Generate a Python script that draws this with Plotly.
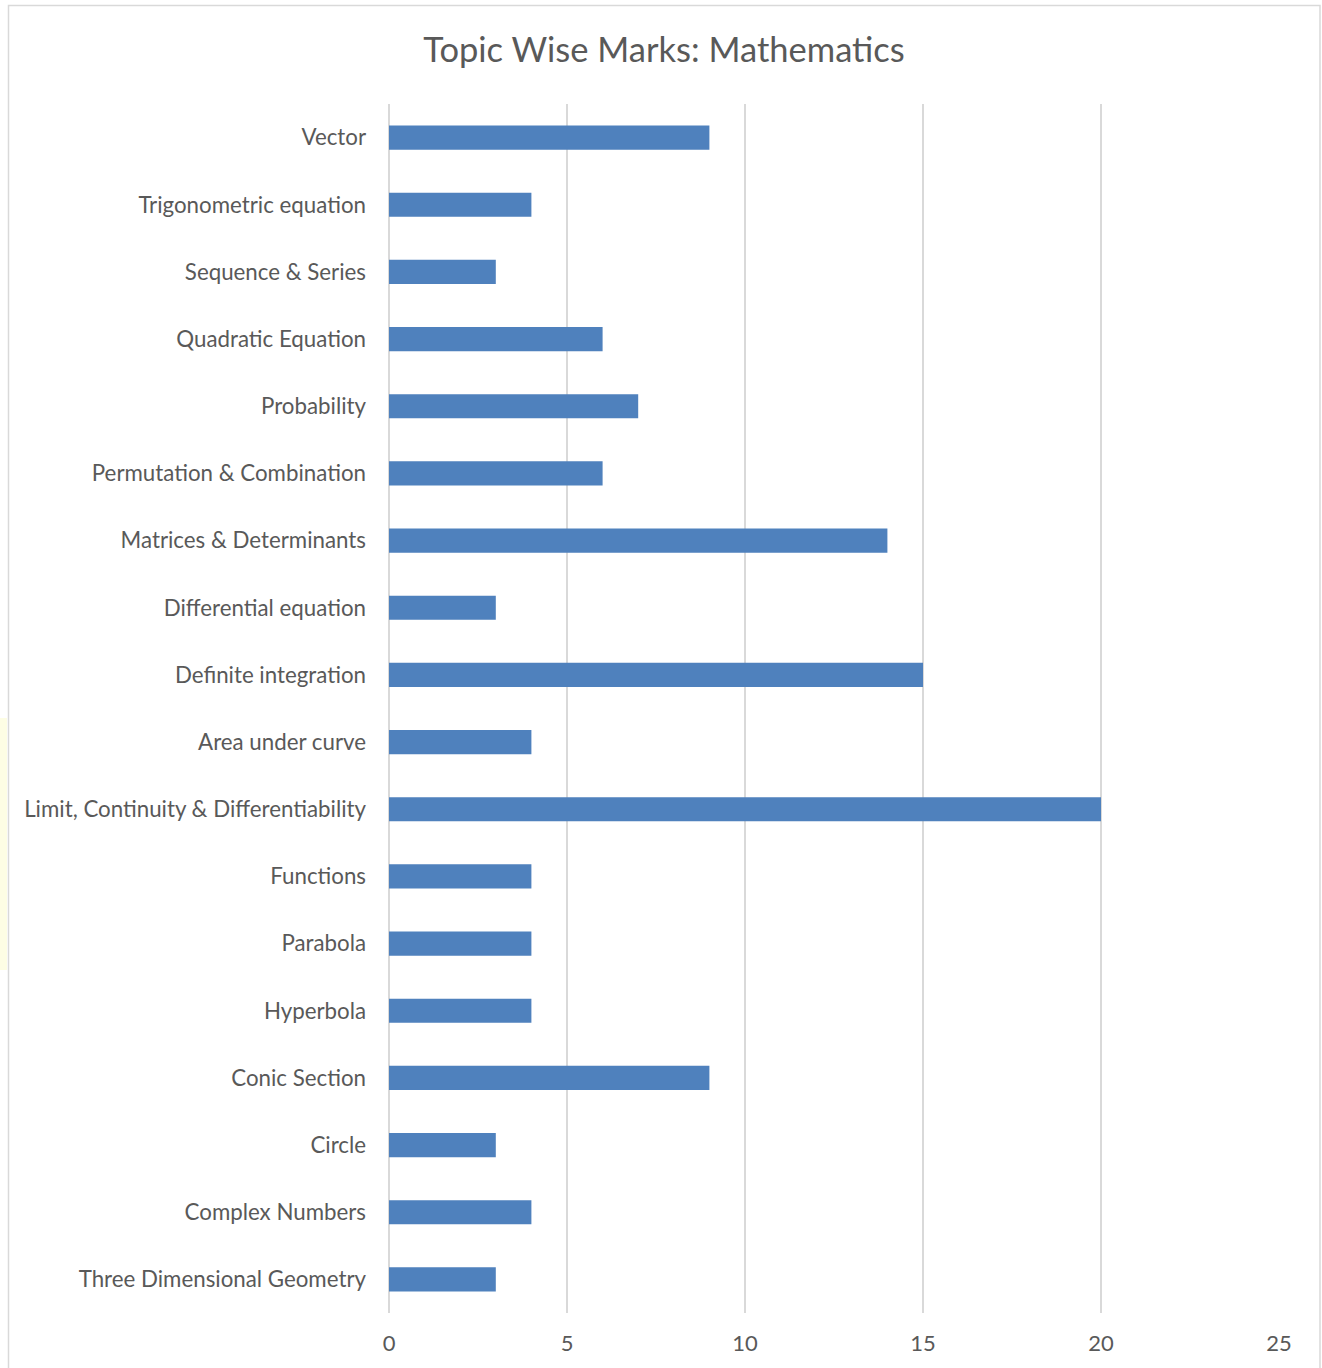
import plotly.graph_objects as go

categories = [
    "Vector", "Trigonometric equation", "Sequence & Series", "Quadratic Equation",
    "Probability", "Permutation & Combination", "Matrices & Determinants",
    "Differential equation", "Definite integration", "Area under curve",
    "Limit, Continuity & Differentiability", "Functions", "Parabola", "Hyperbola",
    "Conic Section", "Circle", "Complex Numbers", "Three Dimensional Geometry",
]
marks = [9, 4, 3, 6, 7, 6, 14, 3, 15, 4, 20, 4, 4, 4, 9, 3, 4, 3]
x_ticks = [0, 5, 10, 15, 20, 25]

W, H = 1322, 1368
L, R, T, B = 389, 43, 104, 55
pw, ph = W - L - R, H - T - B

def px_x(p):
    return (p - L) / pw

def px_y(p):
    return (H - B - p) / ph

FONT = "Lato"
TXT = "#595959"
GRID = "#d9d9d9"

fig = go.Figure(go.Bar(
    x=marks, y=categories, orientation="h",
    marker=dict(color="#4f81bd", line=dict(width=0)),
    width=0.36,
))

fig.update_layout(
    width=W, height=H,
    margin=dict(l=L, r=R, t=T, b=B, autoexpand=False),
    paper_bgcolor="white", plot_bgcolor="white",
    showlegend=False,
    title=dict(text="Topic Wise Marks: Mathematics", x=px_x(664), xref="paper",
               xanchor="center", y=1 - 50 / H, yanchor="middle",
               font=dict(family=FONT, size=34.5, color=TXT)),
    font=dict(family=FONT, color=TXT),
    shapes=[
        dict(type="rect", xref="paper", yref="paper",
             x0=px_x(8.5), x1=px_x(1320), y0=px_y(1375), y1=px_y(5.5),
             line=dict(color=GRID, width=1.5), layer="below"),
        dict(type="rect", xref="paper", yref="paper",
             x0=px_x(0), x1=px_x(7), y0=px_y(970), y1=px_y(718),
             line=dict(width=0), fillcolor="#fdfde4", layer="below"),
    ],
)
fig.update_xaxes(range=[0, 25], tickvals=x_ticks, showgrid=True, gridcolor=GRID,
                 gridwidth=1.5, zeroline=True, zerolinecolor=GRID, zerolinewidth=1.5,
                 showline=False, ticks="", ticklabelstandoff=15,
                 tickfont=dict(family=FONT, size=22, color=TXT), fixedrange=True)
fig.update_yaxes(categoryorder="array", categoryarray=categories, autorange="reversed",
                 range=[17.5, -0.5], showgrid=False, zeroline=False, showline=False,
                 ticks="", ticklabelstandoff=22,
                 tickfont=dict(family=FONT, size=22.3, color=TXT))

fig.write_html("out.html", config={"displayModeBar": False},
               post_script="document.body.style.margin='0';")
